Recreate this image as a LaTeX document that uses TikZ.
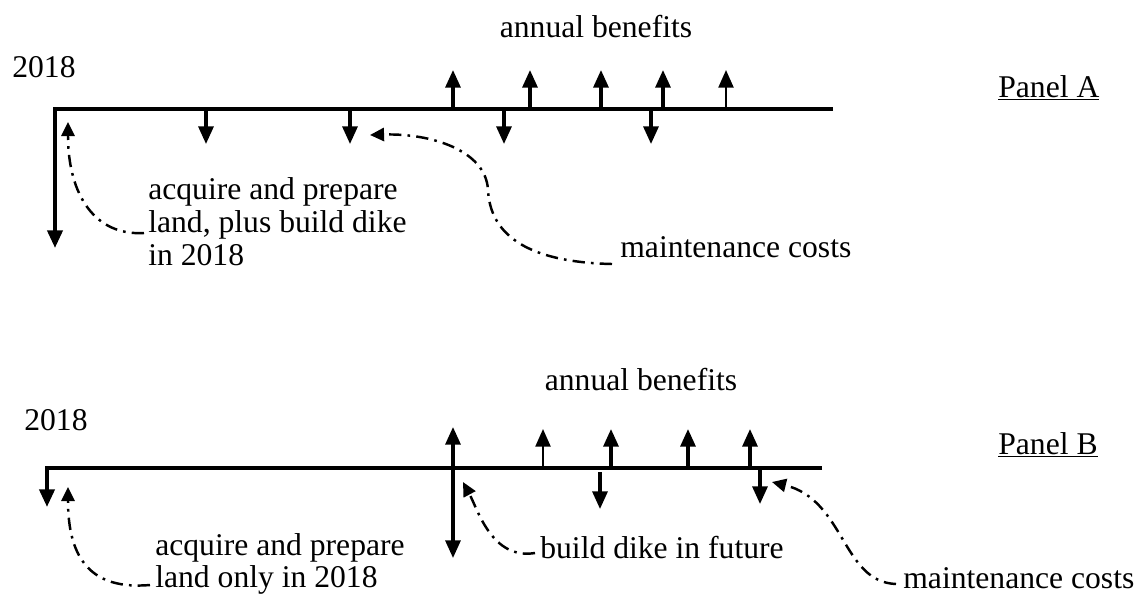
\documentclass[tikz,border=0pt]{standalone}
\usepackage{fontspec}
\setmainfont{Liberation Serif}
\usetikzlibrary{arrows.meta}
\begin{document}
\begin{tikzpicture}[x=0.02cm,y=-0.02cm,
  lbl/.style={font=\fontsize{18}{18.7}\selectfont, inner sep=0pt},
  axis/.style={line width=2.2pt, line join=miter},
  flow/.style={line width=1.8pt,-{Triangle[length=10pt,width=8.5pt]}},
  thinflow/.style={line width=1.3pt,-{Triangle[length=10pt,width=8.5pt]}},
  pointer/.style={line width=1.4pt,dash pattern=on 7pt off 3.5pt on 1.5pt off 3.5pt,-{Triangle[length=8pt,width=7.5pt]}}]
\useasboundingbox (0,0) rectangle (1136,596);

% ---------------- Panel A ----------------
\node[lbl, anchor=west] (yearA) at (12,67) {2018};
\node[lbl] (benA) at (596,27) {annual benefits};
\node[lbl, anchor=west] (panelA) at (998,88) {\underline{Panel A}};
\node[lbl, anchor=west, align=left] (costA) at (148,222) {acquire and prepare\\land, plus build dike\\in 2018};
\node[lbl, anchor=west] (maintA) at (620,247) {maintenance costs};

\coordinate (aEnd) at (833,109);
\coordinate (aStart) at (55,109);
\coordinate (aBig) at (55,248);
\draw[axis,-{Triangle[length=10pt,width=8.5pt]}] (aEnd) -- (aStart) -- (aBig);

\foreach \x/\n in {206/1,350/2,504/3,651/4}{
  \coordinate (ad\n) at (\x,109);
  \coordinate (adt\n) at (\x,144);
  \draw[flow] (ad\n) -- (adt\n);
}
\foreach \x/\n in {453/1,530/2,601/3,663/4}{
  \coordinate (au\n) at (\x,109);
  \coordinate (aut\n) at (\x,70);
  \draw[flow] (au\n) -- (aut\n);
}
\coordinate (au5) at (726,109);
\coordinate (aut5) at (726,70);
\draw[thinflow] (au5) -- (aut5);

\coordinate (pA1) at (68,122);
\draw[pointer] ([shift={(-4,11)}]costA.west) .. controls (95,236) and (68,195) .. (pA1);
\coordinate (pA2) at (370,135);
\draw[pointer] ([shift={(-8,17)}]maintA.west) .. controls (520,262) and (490,230) .. (488,190)
  .. controls (486,150) and (430,133) .. (pA2);

% ---------------- Panel B ----------------
\node[lbl, anchor=west] (yearB) at (24,420) {2018};
\node[lbl] (benB) at (641,380) {annual benefits};
\node[lbl, anchor=west] (panelB) at (998,445) {\underline{Panel B}};
\node[lbl, anchor=west, align=left] (costB) at (155,564) {acquire and prepare\\land only in 2018};
\node[lbl, anchor=west] (dikeB) at (540,548) {build dike in future};
\node[lbl, anchor=west] (maintB) at (903,578) {maintenance costs};

\coordinate (bEnd) at (822,468);
\coordinate (bStart) at (47,468);
\coordinate (bDown) at (47,507);
\draw[axis,-{Triangle[length=10pt,width=8.5pt]}] (bEnd) -- (bStart) -- (bDown);

\coordinate (bBigTop) at (453,427);
\coordinate (bBigBot) at (453,558);
\draw[line width=1.8pt,{Triangle[length=10pt,width=8.5pt]}-{Triangle[length=10pt,width=8.5pt]}] (bBigTop) -- (bBigBot);

\coordinate (bu1) at (543,468); \coordinate (but1) at (543,429);
\draw[thinflow] (bu1) -- (but1);
\foreach \x/\n in {611/2,688/3,750/4}{
  \coordinate (bu\n) at (\x,468);
  \coordinate (but\n) at (\x,429);
  \draw[flow] (bu\n) -- (but\n);
}
\coordinate (bd1) at (600,472); \coordinate (bdt1) at (600,509);
\draw[flow] (bd1) -- (bdt1);
\coordinate (bd2) at (760,468); \coordinate (bdt2) at (760,504);
\draw[flow] (bd2) -- (bdt2);

\coordinate (pB1) at (68,487);
\draw[pointer] ([shift={(-5,21)}]costB.west) .. controls (92,590) and (68,560) .. (pB1);
\coordinate (pB2) at (463,482);
\draw[pointer] ([shift={(-5,5)}]dikeB.west) .. controls (492,560) and (478,510) .. (pB2);
\coordinate (pB3) at (772,482);
\draw[pointer] ([shift={(-7,6)}]maintB.west) .. controls (842,582) and (845,500) .. (pB3);
\end{tikzpicture}
\end{document}
